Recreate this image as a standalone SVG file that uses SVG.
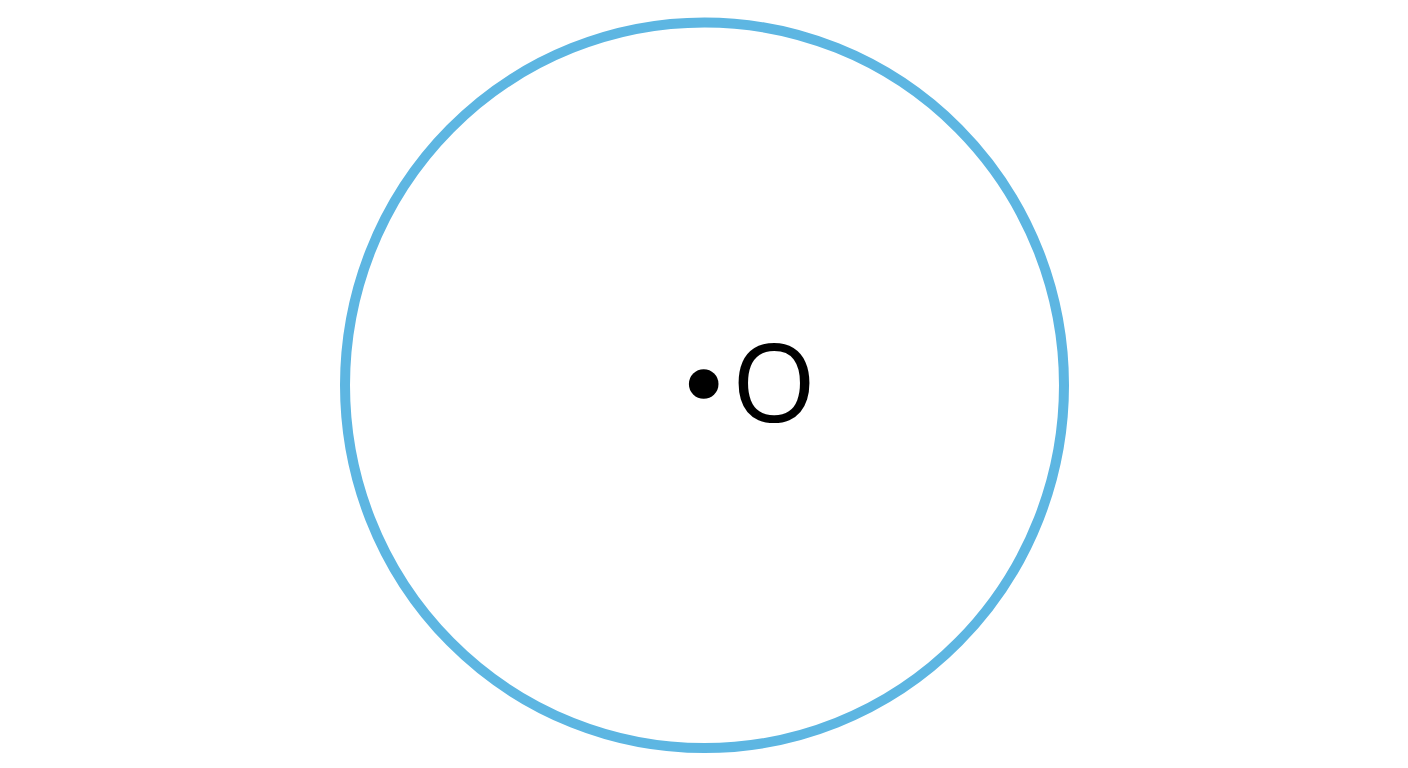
<svg xmlns="http://www.w3.org/2000/svg" width="1408" height="768" viewBox="0 0 1408 768">
<style>
.ring{fill:none;stroke:#5db6e2;stroke-width:10}
.lbl{font-family:"Open Sans","Noto Sans",sans-serif;font-size:108px;fill:#000}
</style>
<rect width="1408" height="768" fill="#fff"/>
<g id="circle">
<ellipse class="ring" cx="704.5" cy="385.3" rx="359.5" ry="362.8"/>
</g>
<g id="center">
<circle cx="703.7" cy="384" r="14.8" fill="#000"/>
<text class="lbl" x="732" y="422">O</text>
</g>
<g id="connectors"></g>
</svg>
